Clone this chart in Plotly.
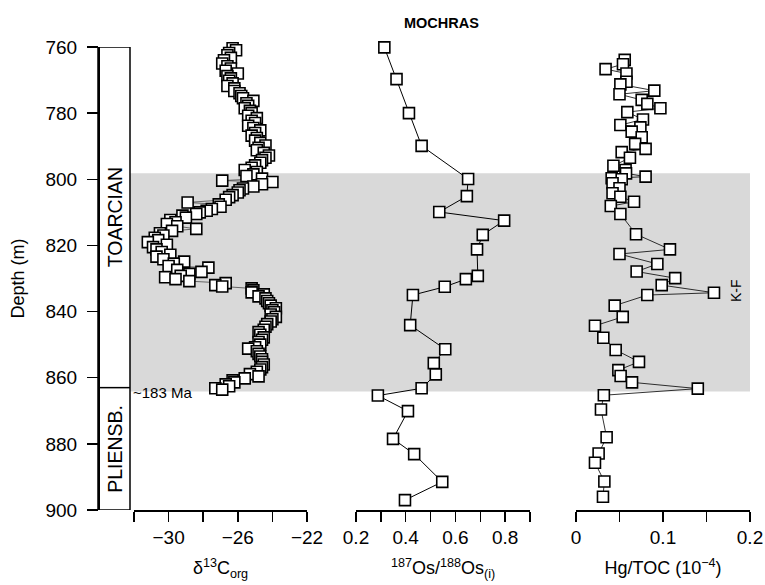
import plotly.graph_objects as go

# ---------------- data ----------------
c13_depth = [760.4, 761.0, 761.8, 762.5, 763.3, 764.0, 765.0, 765.8, 766.5, 767.2,
             768.0, 768.8, 769.5, 770.2, 771.0, 771.8, 772.5, 773.3, 774.0, 774.8,
             775.5, 776.3, 777.0, 777.8, 778.5, 779.3, 780.0, 780.8, 781.5, 782.3,
             783.0, 783.8, 784.5, 785.2, 786.0, 786.8, 787.5, 788.3, 789.0, 789.8,
             790.5, 791.2, 792.0, 792.8, 793.5, 794.2, 795.0, 795.8, 796.5, 797.2,
             797.8, 798.5, 799.0, 799.8, 800.4, 800.8, 801.5, 802.2, 802.8, 803.3,
             804.0, 804.8, 805.4, 806.2, 807.0, 807.6, 808.3, 809.0, 809.5, 810.0,
             810.5, 811.0, 811.6, 812.3, 813.0, 813.5, 814.2, 815.0, 815.6, 816.3,
             817.0, 817.7, 818.4, 819.0, 819.8, 820.5, 821.2, 822.0, 822.8, 823.4,
             824.2, 824.9, 825.5, 826.2, 826.7, 827.4, 828.0, 828.6, 829.2, 829.6,
             830.2, 830.8, 831.4, 832.0, 832.4, 833.0, 833.6, 834.2, 834.8, 835.4,
             836.0, 836.8, 837.5, 838.2, 839.0, 839.6, 840.2, 840.9, 841.6, 842.3,
             843.0, 843.8, 844.6, 845.5, 846.2, 847.0, 847.8, 848.5, 849.2, 850.0,
             850.8, 851.2, 852.0, 852.8, 853.6, 854.4, 855.2, 856.0, 856.8, 857.5,
             858.2, 858.9, 859.6, 860.2, 860.8, 861.4, 862.0, 862.6, 863.2, 863.6]
c13_value = [-26.3, -26.1, -26.5, -26.6, -26.4, -26.8, -26.9, -26.6, -26.4, -26.7,
             -26.0, -26.6, -26.4, -26.5, -26.3, -26.6, -26.2, -26.2, -25.9, -25.8,
             -25.7, -25.1, -25.5, -25.4, -25.6, -25.3, -25.2, -25.4, -24.9, -25.2,
             -25.0, -25.4, -25.1, -24.7, -25.0, -25.2, -24.9, -25.0, -24.7, -24.4,
             -24.8, -24.9, -24.5, -24.2, -24.4, -24.6, -24.7, -25.0, -25.2, -25.6,
             -24.9, -25.1, -25.5, -24.6, -26.9, -24.0, -24.6, -25.1, -25.7, -25.9,
             -26.0, -26.3, -26.5, -26.7, -28.9, -27.1, -27.0, -27.5, -27.8, -28.2,
             -28.4, -29.2, -29.0, -29.9, -29.6, -30.1, -29.5, -28.4, -29.8, -30.5,
             -30.3, -30.8, -30.6, -31.2, -30.1, -30.9, -30.7, -30.4, -29.9, -30.7,
             -30.3, -29.1, -29.7, -30.0, -27.7, -29.5, -28.1, -28.8, -29.3, -30.2,
             -29.6, -28.8, -26.7, -27.3, -26.9, -25.2, -25.1, -25.2, -24.5, -24.8,
             -24.4, -24.3, -24.2, -24.1, -23.8, -24.0, -23.9, -24.1, -23.8, -24.0,
             -24.1, -24.3, -24.4, -24.5, -24.8, -24.7, -24.5, -24.6, -24.8, -24.7,
             -25.0, -25.4, -24.9, -24.8, -24.7, -24.6, -24.6, -24.5, -24.6, -24.7,
             -24.9, -25.3, -24.8, -25.6, -26.3, -26.2, -26.7, -26.5, -27.3, -26.9]

os_depth = [760.1, 769.7, 780.0, 789.9, 799.9, 805.1, 809.9, 812.5, 816.8, 821.2,
            829.2, 830.2, 832.5, 835.0, 844.1, 851.4, 855.6, 859.0, 863.2, 865.4,
            870.1, 878.5, 883.1, 891.5, 897.0]
os_value = [0.314, 0.363, 0.413, 0.464, 0.651, 0.646, 0.535, 0.796, 0.710, 0.687,
            0.690, 0.642, 0.557, 0.429, 0.418, 0.559, 0.513, 0.521, 0.464, 0.288,
            0.409, 0.349, 0.434, 0.547, 0.397]

hg_depth = [763.9, 765.2, 766.7, 768.0, 770.5, 771.3, 773.2, 774.3, 776.0, 777.2,
            778.5, 779.7, 781.9, 783.6, 784.3, 785.6, 787.3, 789.3, 790.8, 791.8,
            793.5, 795.9, 797.2, 798.2, 799.2, 799.7, 800.0, 801.2, 802.7, 804.2,
            805.3, 806.8, 808.1, 810.5, 816.6, 821.2, 822.6, 825.6, 827.9, 829.9,
            832.0, 834.3, 835.0, 838.2, 841.6, 844.3, 847.9, 851.6, 855.2, 857.7,
            859.5, 861.4, 863.3, 865.3, 869.6, 878.0, 882.9, 885.7, 891.4, 896.0]
hg_value = [0.056, 0.054, 0.034, 0.058, 0.058, 0.051, 0.090, 0.050, 0.0755, 0.082,
            0.097, 0.059, 0.077, 0.051, 0.074, 0.064, 0.0755, 0.068, 0.080, 0.0525,
            0.062, 0.043, 0.057, 0.0575, 0.080, 0.041, 0.0525, 0.042, 0.050, 0.042,
            0.051, 0.0667, 0.040, 0.051, 0.069, 0.108, 0.050, 0.0935, 0.0697, 0.114,
            0.0985, 0.1586, 0.082, 0.0445, 0.0537, 0.0218, 0.0314, 0.0456, 0.0724, 0.0487,
            0.0513, 0.0644, 0.140, 0.032, 0.0287, 0.0352, 0.026, 0.0218, 0.0326, 0.031]

depth_ticks = [760, 780, 800, 820, 840, 860, 880, 900]
c13_ticks = [-30, -26, -22]
c13_ticktext = ["\u221230", "\u221226", "\u221222"]
c13_minor = [-32, -28, -24]
os_ticks = [0.2, 0.4, 0.6, 0.8]
os_ticktext = ["0.2", "0.4", "0.6", "0.8"]
os_minor = [0.3, 0.5, 0.7, 0.9]
hg_ticks = [0, 0.1, 0.2]
hg_ticktext = ["0", "0.1", "0.2"]
hg_minor = [0.05, 0.15]

stage_names = ["TOARCIAN", "PLIENSB."]
stage_top = [760, 863]
stage_base = [863, 900]
band_top, band_base = 798.2, 864.2

# ---------------- figure ----------------
FONT = "Liberation Sans, Arial, sans-serif"
W, H = 765, 585
ML, MR, MT, MB = 98, 15, 47, 75
PW = W - ML - MR
PH = H - MT - MB

def px_to_dom(px):
    return (px - ML) / PW

marker = dict(symbol="square", size=11, color="white",
              line=dict(color="black", width=1.6))

fig = go.Figure()
fig.add_trace(go.Scatter(x=c13_value, y=c13_depth, mode="lines+markers",
                         line=dict(color="#333333", width=0.7), marker=marker,
                         xaxis="x", yaxis="y", cliponaxis=False, showlegend=False))
fig.add_trace(go.Scatter(x=os_value, y=os_depth, mode="lines+markers",
                         line=dict(color="black", width=1), marker=marker,
                         xaxis="x2", yaxis="y", cliponaxis=False, showlegend=False))
fig.add_trace(go.Scatter(x=hg_value, y=hg_depth, mode="lines+markers",
                         line=dict(color="black", width=0.8), marker=marker,
                         xaxis="x3", yaxis="y", cliponaxis=False, showlegend=False))

col_right = px_to_dom(130)

shapes = [
    dict(type="rect", xref="paper", yref="y", x0=col_right, x1=1.0,
         y0=band_top, y1=band_base, fillcolor="#d9d9d9", line=dict(width=0),
         layer="below"),
    dict(type="rect", xref="paper", yref="y", x0=0, x1=col_right,
         y0=760, y1=900, line=dict(color="black", width=1.5), layer="above"),
    dict(type="line", xref="paper", yref="y", x0=0, x1=col_right,
         y0=stage_base[0], y1=stage_base[0], line=dict(color="black", width=1.5)),
]

annotations = []
for name, t, b in zip(stage_names, stage_top, stage_base):
    annotations.append(dict(text=name, xref="paper", yref="y",
                            x=px_to_dom(115), y=(t + b) / 2, textangle=-90,
                            xanchor="center", yanchor="middle",
                            showarrow=False, font=dict(family=FONT, size=19.5, color="black")))
annotations.append(dict(text="~183 Ma", xref="paper", yref="y", x=px_to_dom(131),
                        y=864.5, xanchor="left", yanchor="middle", showarrow=False,
                        font=dict(family=FONT, size=15, color="black")))
annotations.append(dict(text="K-F", xref="paper", yref="y", x=px_to_dom(736),
                        y=833.8, textangle=-90, xanchor="center", yanchor="middle",
                        showarrow=False,
                        font=dict(family=FONT, size=14, color="black")))
annotations.append(dict(text="<b>MOCHRAS</b>", xref="paper", yref="paper",
                        x=px_to_dom(441), y=1 + (MT - 23) / PH,
                        xanchor="center", yanchor="middle", showarrow=False,
                        font=dict(family=FONT, size=14.5, color="black")))

def xaxis(domain, rng, ticks, text, minor, title):
    return dict(domain=domain, range=rng, anchor="y", automargin=False,
                showline=True, linecolor="black", linewidth=1.5,
                ticks="outside", ticklen=10, tickwidth=1.5, tickcolor="black",
                showgrid=False, zeroline=False, tickmode="array",
                tickvals=ticks, ticktext=text,
                minor=dict(tickmode="array", tickvals=minor, ticks="outside",
                           ticklen=10, tickwidth=1.5, tickcolor="black", showgrid=False),
                tickfont=dict(family=FONT, size=19, color="black"),
                title=dict(text=title, standoff=14,
                           font=dict(family=FONT, size=18, color="black")))

fig.update_layout(
    width=W, height=H,
    margin=dict(l=ML, r=MR, t=MT, b=MB),
    paper_bgcolor="white", plot_bgcolor="white",
    font=dict(family=FONT, color="black"),
    hovermode=False,
    shapes=shapes, annotations=annotations,
    xaxis=xaxis([px_to_dom(134), px_to_dom(307)], [-32, -22], c13_ticks, c13_ticktext,
                c13_minor, "\u03b4<sup>13</sup>C<sub>org</sub>"),
    xaxis2=xaxis([px_to_dom(356), px_to_dom(530)], [0.2, 0.9], os_ticks, os_ticktext,
                 os_minor, "<sup>187</sup>Os/<sup>188</sup>Os<sub>(i)</sub>"),
    xaxis3=xaxis([px_to_dom(576), 1.0], [0, 0.2], hg_ticks, hg_ticktext,
                 hg_minor, "Hg/TOC (10<sup>\u22124</sup>)"),
    yaxis=dict(range=[900, 760], anchor="free", position=0, automargin=False,
               showline=True, linecolor="black", linewidth=1.5, ticks="outside",
               ticklen=11, tickwidth=1.5, tickcolor="black", showgrid=False,
               zeroline=False, tickmode="array", tickvals=depth_ticks,
               tickfont=dict(family=FONT, size=19, color="black"),
               ticklabelstandoff=6,
               title=dict(text="Depth (m)", standoff=14,
                          font=dict(family=FONT, size=18, color="black"))),
)

# remove the default 8px page margin so the 765x585 figure fills the window exactly
fig.write_html("out.html",
               config={"displayModeBar": False, "staticPlot": True},
               post_script="document.body.style.margin='0px';"
                           "document.documentElement.style.overflow='hidden';")
